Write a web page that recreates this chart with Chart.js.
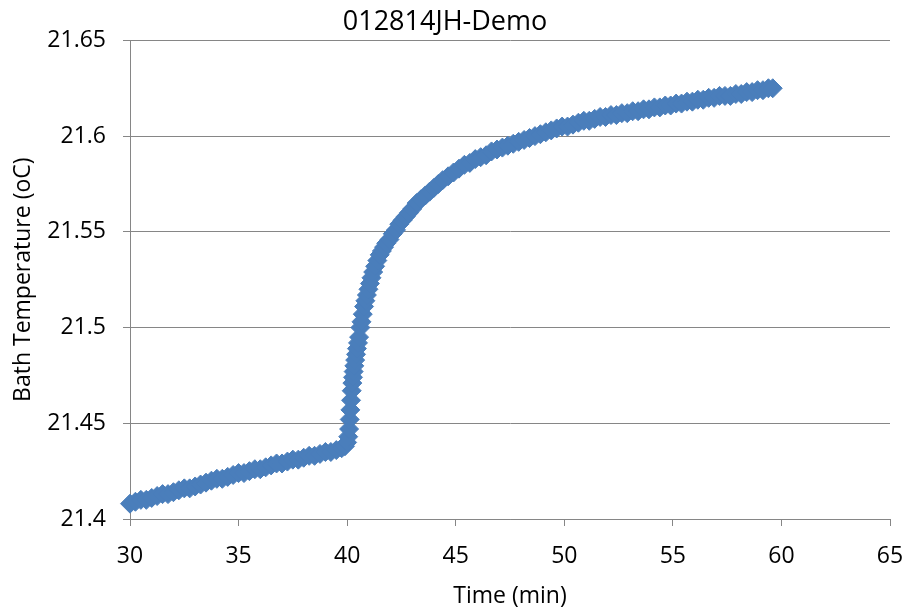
<!DOCTYPE html>
<html lang="en">

<head>
    <meta charset="UTF-8">
    <title>012814JH-Demo</title>
    <style>
        html, body {
            margin: 0;
            padding: 0;
            background: #fff;
        }

        .chart-container {
            position: relative;
            width: 908px;
            height: 610px;
        }
    </style>
</head>

<body>
    <div class="chart-container">
        <canvas id="bathChart"></canvas>
    </div>

    <script src="https://cdn.jsdelivr.net/npm/chart.js"></script>
    <script>
        // Time (min) of each reading
        const timeMin = [
            30.00, 30.25, 30.50, 30.75, 31.00, 31.25, 31.50, 31.75, 32.00, 32.25,
            32.50, 32.75, 33.00, 33.25, 33.50, 33.75, 34.00, 34.25, 34.50, 34.75,
            35.00, 35.25, 35.50, 35.75, 36.00, 36.25, 36.50, 36.75, 37.00, 37.25,
            37.50, 37.75, 38.00, 38.25, 38.50, 38.75, 39.00, 39.25, 39.50, 39.75,
            39.90, 40.00, 40.05, 40.09, 40.12, 40.15, 40.18, 40.21, 40.24, 40.27,
            40.30, 40.33, 40.37, 40.41, 40.45, 40.50, 40.55, 40.61, 40.66, 40.72,
            40.78, 40.84, 40.91, 40.98, 41.05, 41.12, 41.20, 41.29, 41.39, 41.50,
            41.60, 41.70, 41.80, 41.95, 42.10, 42.25, 42.40, 42.55, 42.70, 42.85,
            43.00, 43.20, 43.40, 43.60, 43.80, 44.00, 44.20, 44.40, 44.65, 44.90,
            45.15, 45.40, 45.65, 45.90, 46.15, 46.40, 46.65, 46.90, 47.15, 47.40,
            47.65, 47.90, 48.15, 48.40, 48.65, 48.90, 49.15, 49.40, 49.65, 49.90,
            50.15, 50.40, 50.65, 50.90, 51.15, 51.40, 51.65, 51.90, 52.15, 52.40,
            52.65, 52.90, 53.15, 53.40, 53.65, 53.90, 54.15, 54.40, 54.65, 54.90,
            55.15, 55.40, 55.65, 55.90, 56.15, 56.40, 56.65, 56.90, 57.15, 57.40,
            57.65, 57.90, 58.15, 58.40, 58.65, 58.90, 59.15, 59.40, 59.60
        ];

        // Bath temperature (oC) at each reading
        const bathTempC = [
            21.408, 21.409, 21.410, 21.410, 21.411, 21.412, 21.413, 21.413, 21.414, 21.415,
            21.416, 21.416, 21.417, 21.418, 21.419, 21.420, 21.421, 21.421, 21.422, 21.423,
            21.424, 21.424, 21.425, 21.426, 21.426, 21.427, 21.428, 21.429, 21.429, 21.430,
            21.431, 21.431, 21.432, 21.433, 21.433, 21.434, 21.435, 21.435, 21.436, 21.437,
            21.438, 21.440, 21.443, 21.447, 21.452, 21.457, 21.462, 21.467, 21.471, 21.474,
            21.477, 21.480, 21.483, 21.486, 21.489, 21.492, 21.495, 21.500, 21.503, 21.507,
            21.511, 21.514, 21.517, 21.520, 21.523, 21.526, 21.529, 21.532, 21.535, 21.538,
            21.540, 21.542, 21.544, 21.546, 21.549, 21.551, 21.554, 21.556, 21.558, 21.560,
            21.562, 21.565, 21.567, 21.569, 21.571, 21.573, 21.575, 21.577, 21.579, 21.581,
            21.583, 21.585, 21.586, 21.588, 21.589, 21.590, 21.592, 21.593, 21.594, 21.595,
            21.596, 21.597, 21.598, 21.599, 21.600, 21.601, 21.602, 21.603, 21.604, 21.605,
            21.605, 21.606, 21.607, 21.608, 21.608, 21.609, 21.610, 21.610, 21.611, 21.611,
            21.612, 21.612, 21.613, 21.613, 21.614, 21.614, 21.615, 21.615, 21.616, 21.616,
            21.617, 21.617, 21.618, 21.618, 21.619, 21.619, 21.620, 21.620, 21.621, 21.621,
            21.621, 21.622, 21.622, 21.623, 21.623, 21.624, 21.624, 21.625, 21.625
        ];

        // Axis ticks
        const xTicks = [30, 35, 40, 45, 50, 55, 60, 65];
        const xTickLabels = ['30', '35', '40', '45', '50', '55', '60', '65'];
        const yTicks = [21.4, 21.45, 21.5, 21.55, 21.6, 21.65];
        const yTickLabels = ['21.4', '21.45', '21.5', '21.55', '21.6', '21.65'];

        const points = timeMin.map((t, i) => ({ x: t, y: bathTempC[i] }));

        const axisGray = '#868686';
        Chart.defaults.font.family = '"Open Sans", sans-serif';
        Chart.defaults.color = '#000';

        const ctx = document.getElementById('bathChart').getContext('2d');
        new Chart(ctx, {
            type: 'scatter',
            data: {
                datasets: [{
                    label: 'Bath Temperature',
                    data: points,
                    pointStyle: 'rectRot',
                    pointRadius: 9.5,
                    pointBorderWidth: 1,
                    backgroundColor: '#4a7ebb',
                    borderColor: '#4a7ebb',
                    showLine: false,
                    clip: false
                }]
            },
            options: {
                responsive: true,
                maintainAspectRatio: false,
                animation: false,
                layout: {
                    padding: { left: 0, right: 18, top: 0, bottom: 0 }
                },
                plugins: {
                    legend: { display: false },
                    tooltip: { enabled: false },
                    title: {
                        display: true,
                        text: '012814JH-Demo',
                        font: { size: 27, weight: 'normal' },
                        color: '#000',
                        padding: { top: 6, bottom: 2 }
                    }
                },
                scales: {
                    x: {
                        type: 'linear',
                        min: 30,
                        max: 65,
                        afterBuildTicks: (scale) => {
                            scale.ticks = xTicks.map(v => ({ value: v }));
                        },
                        afterFit: (scale) => {
                            scale.height = 91;
                            scale.paddingLeft = 0;
                            scale.paddingRight = 0;
                        },
                        ticks: {
                            font: { size: 23 },
                            padding: 17,
                            maxRotation: 0,
                            callback: (v, i) => xTickLabels[i]
                        },
                        grid: {
                            drawOnChartArea: false,
                            drawTicks: true,
                            tickLength: 7,
                            color: axisGray
                        },
                        border: { display: true, color: axisGray },
                        title: {
                            display: true,
                            text: 'Time (min)',
                            font: { size: 23 },
                            padding: { top: 4, bottom: 0 }
                        }
                    },
                    y: {
                        type: 'linear',
                        min: 21.4,
                        max: 21.65,
                        afterBuildTicks: (scale) => {
                            scale.ticks = yTicks.map(v => ({ value: v }));
                        },
                        afterFit: (scale) => {
                            scale.width = 130;
                        },
                        ticks: {
                            font: { size: 23 },
                            padding: 17,
                            callback: (v, i) => yTickLabels[i]
                        },
                        grid: {
                            color: axisGray,
                            tickLength: 7
                        },
                        border: { display: true, color: axisGray },
                        title: {
                            display: true,
                            text: 'Bath Temperature (oC)',
                            font: { size: 23 },
                            padding: { top: 10, bottom: 0 }
                        }
                    }
                }
            }
        });
    </script>
</body>

</html>
